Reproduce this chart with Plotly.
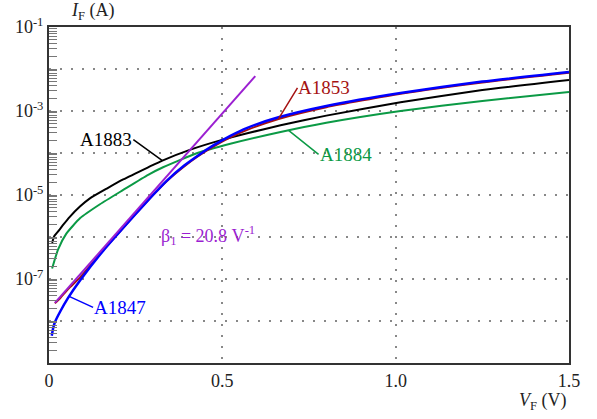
import numpy as np
import plotly.graph_objects as go

# ---- data (forward voltage V, log10 of forward current in A) ----
V_A1883 = [0.009, 0.015, 0.025, 0.04, 0.06, 0.09, 0.118, 0.168, 0.214, 0.286, 0.327, 0.408,
           0.494, 0.572, 0.668, 0.8, 1.014, 1.25, 1.5]
logI_A1883 = [-6.14, -5.98, -5.88, -5.72, -5.52, -5.27, -5.08, -4.84, -4.63, -4.34, -4.18, -3.92,
              -3.70, -3.53, -3.34, -3.11, -2.79, -2.5, -2.26]

V_A1884 = [0.009, 0.026, 0.05, 0.09, 0.147, 0.214, 0.286, 0.329, 0.428, 0.523, 0.668, 0.8,
           1.014, 1.25, 1.5]
logI_A1884 = [-6.75, -6.3, -5.92, -5.55, -5.22, -4.88, -4.52, -4.34, -4.0, -3.78, -3.50, -3.28,
              -3.0, -2.76, -2.55]

V_A1847 = [0.008, 0.012, 0.017, 0.032, 0.055, 0.09, 0.156, 0.25, 0.3, 0.341, 0.39, 0.428, 0.474,
           0.523, 0.572, 0.662, 0.8, 1.014, 1.25, 1.5]
logI_A1847 = [-8.35, -8.17, -8.03, -7.78, -7.45, -7.03, -6.33, -5.45, -5.0, -4.65, -4.30, -4.07, -3.82,
              -3.59, -3.40, -3.15, -2.88, -2.57, -2.3, -2.07]

V_A1853 = [0.017, 0.032, 0.055, 0.09, 0.156, 0.25, 0.3, 0.341, 0.39, 0.428, 0.474, 0.523, 0.572,
           0.662, 0.8, 1.014, 1.25, 1.5]
logI_A1853 = [-7.58, -7.46, -7.24, -6.96, -6.32, -5.45, -5.0, -4.66, -4.32, -4.09, -3.85, -3.63, -3.45,
              -3.19, -2.91, -2.59, -2.32, -2.09]

V_fit = [0.017, 0.595]
logI_fit = [-7.57, -2.17]

y_tick_vals = [1e-9, 1e-8, 1e-7, 1e-6, 1e-5, 1e-4, 1e-3, 1e-2, 1e-1]
y_tick_text = ["", "", "10<sup>-7</sup>", "", "10<sup>-5</sup>", "", "10<sup>-3</sup>", "", "10<sup>-1</sup>"]
x_tick_vals = [0, 0.5, 1.0, 1.5]
x_tick_text = ["0", "0.5", "1.0", "1.5"]

FONT = "Times New Roman, Liberation Serif, Tinos, serif"
C_BLACK = "#000000"
C_GREEN = "#0b9a45"
C_BLUE = "#0000ff"
C_RED = "#a51212"
C_PURPLE = "#9b1fd1"

fig = go.Figure()

def add(v, lg, color, width):
    fig.add_trace(go.Scatter(x=v, y=np.power(10.0, lg), mode="lines",
                             line=dict(color=color, width=width, shape="spline", smoothing=0.5),
                             showlegend=False, hoverinfo="skip"))

add(V_A1884, logI_A1884, C_GREEN, 2)
add(V_A1883, logI_A1883, C_BLACK, 2)
add(V_A1853, logI_A1853, C_RED, 2)
add(V_A1847, logI_A1847, C_BLUE, 2.5)
fig.add_trace(go.Scatter(x=V_fit, y=np.power(10.0, logI_fit), mode="lines",
                         line=dict(color=C_PURPLE, width=2), showlegend=False, hoverinfo="skip"))

minor_vals = [m * 10.0 ** e for e in range(-9, -1) for m in range(2, 10)]

fig.update_xaxes(range=[0, 1.5], tickvals=x_tick_vals, ticktext=x_tick_text, ticks="",
                 showgrid=True, gridcolor="#888888", griddash="2px,9px", gridwidth=1.5,
                 showline=True, linecolor="#333333", linewidth=2, mirror=True, zeroline=False,
                 tickfont=dict(family=FONT, size=18, color="#222222"))
fig.update_yaxes(type="log", range=[-9, -1], tickvals=y_tick_vals, ticktext=y_tick_text,
                 ticks="inside", ticklen=8, tickcolor="#777777", tickwidth=1.2,
                 minor=dict(tickvals=minor_vals, ticks="inside", ticklen=8, tickcolor="#777777",
                            tickwidth=1.2, showgrid=False),
                 showgrid=True, gridcolor="#888888", griddash="2px,9px", gridwidth=1.5,
                 showline=True, linecolor="#333333", linewidth=2, mirror=True, zeroline=False,
                 tickfont=dict(family=FONT, size=18, color="#222222"))

def curve_point(v, lg, x0):
    return x0, float(np.interp(x0, v, lg))

labels = [
    ("A1883", V_A1883, logI_A1883, 0.327, -29, -21, "right", C_BLACK),
    ("A1853", V_A1853, logI_A1853, 0.662, 19, -31, "left", C_RED),
    ("A1884", V_A1884, logI_A1884, 0.691, 30, 24, "left", C_GREEN),
    ("A1847", V_A1847, logI_A1847, 0.058, 24, 11, "left", C_BLUE),
]
for text, v, lg, x0, ax, ay, xa, col in labels:
    x, ylog = curve_point(v, lg, x0)
    fig.add_annotation(x=x, y=ylog, xref="x", yref="y", text=text, showarrow=True,
                       arrowhead=0, arrowwidth=1.5, arrowcolor=col, ax=ax, ay=ay,
                       xanchor=xa, yanchor="middle", borderpad=0,
                       font=dict(family=FONT, size=19, color=col))

fig.add_annotation(x=0.0, y=1.0, xref="paper", yref="paper", xshift=20, yshift=2,
                   text="<i>I</i><sub>F</sub> (A)", showarrow=False, xanchor="left", yanchor="bottom",
                   font=dict(family=FONT, size=18, color="#222222"))
fig.add_annotation(x=1.0, y=0.0, xref="paper", yref="paper", yshift=-52,
                   text="<i>V</i><sub>F</sub> (V)", showarrow=False, xanchor="right", yanchor="bottom",
                   font=dict(family=FONT, size=18, color="#222222"))
fig.add_annotation(x=0.46, y=-5.96, xref="x", yref="y",
                   text="β<sub>1</sub> = 20.8 V<sup>-1</sup>", showarrow=False,
                   font=dict(family=FONT, size=18, color=C_PURPLE))

fig.update_layout(width=597, height=419, margin=dict(l=49, r=28, t=27, b=56),
                  paper_bgcolor="white", plot_bgcolor="white",
                  font=dict(family=FONT))

fig.write_html("out.html")
